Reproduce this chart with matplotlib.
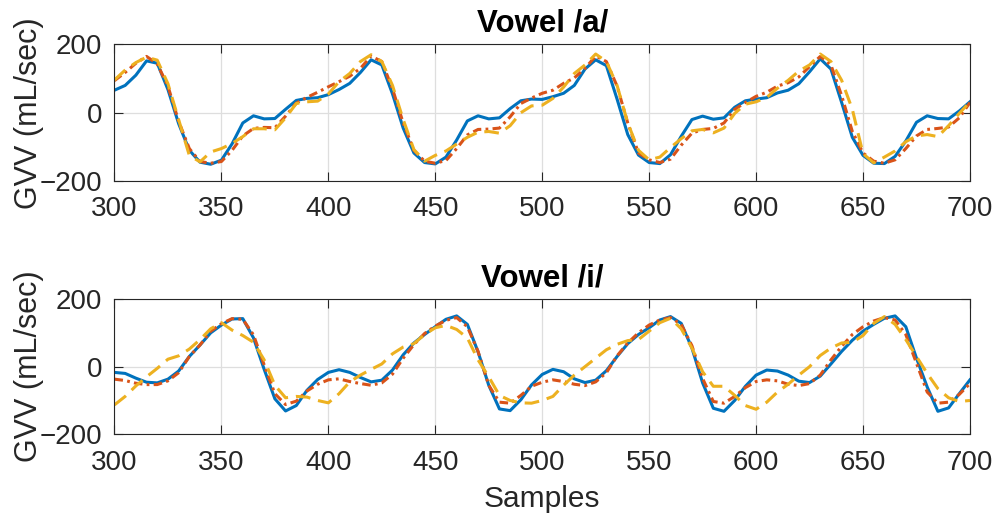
import matplotlib.pyplot as plt
import numpy as np

# MATLAB-like look
plt.rcParams['font.family'] = ['Liberation Sans', 'DejaVu Sans']

# sample index (x axis), every 5 samples
samples = np.arange(300, 701, 5)

# Vowel /a/ : GVV values
a_blue = [66, 80, 110, 152, 145, 68, -32, -110, -145, -151,
          -139, -91, -30, -9, -18, -17, 10, 36, 42, 44,
          53, 68, 86, 118, 155, 140, 55, -45, -118, -146,
          -150, -130, -80, -24, -9, -18, -15, 12, 35, 40,
          39, 47, 57, 80, 128, 155, 138, 40, -64, -124,
          -146, -149, -123, -69, -20, -10, -19, -15, 16, 35,
          40, 44, 58, 66, 85, 120, 158, 128, 30, -72,
          -125, -148, -149, -128, -83, -28, -9, -17, -18, 5,
          32]
a_red = [94, 118, 145, 165, 143, 78, -25, -105, -143, -148,
         -143, -110, -68, -46, -43, -44, -10, 28, 45, 60,
         76, 91, 107, 130, 166, 150, 70, -30, -110, -142,
         -148, -140, -105, -65, -49, -48, -45, -12, 27, 43,
         57, 66, 86, 102, 130, 166, 150, 78, -30, -118,
         -138, -146, -136, -95, -60, -49, -46, -30, 10, 30,
         48, 60, 78, 88, 105, 135, 165, 140, 50, -55,
         -118, -142, -148, -138, -105, -68, -49, -46, -42, -15,
         30]
a_yellow = [96, 125, 147, 163, 154, 85, -20, -125, -144, -115,
            -105, -90, -70, -47, -47, -50, -15, 27, 32, 34,
            55, 91, 115, 150, 170, 150, 80, -20, -108, -142,
            -125, -112, -92, -72, -57, -55, -60, -38, 0, 20,
            22, 42, 75, 115, 140, 172, 150, 80, -30, -110,
            -138, -130, -102, -76, -53, -49, -59, -45, -2, 25,
            32, 45, 72, 95, 122, 140, 172, 150, 95, 10,
            -120, -147, -130, -112, -85, -68, -64, -70, -38, -2,
            32]

# Vowel /i/
i_blue = [-17, -20, -34, -46, -48, -37, -13, 30, 64, 100,
          123, 141, 142, 85, -8, -95, -131, -115, -70, -38,
          -17, -9, -17, -32, -45, -40, -10, 35, 70, 95,
          118, 140, 150, 125, 44, -55, -125, -130, -98, -54,
          -23, -8, -15, -36, -47, -40, -12, 30, 68, 95,
          115, 138, 148, 128, 55, -48, -123, -132, -100, -58,
          -25, -10, -13, -25, -43, -47, -28, 8, 45, 78,
          105, 125, 143, 150, 118, 25, -60, -132, -122, -80,
          -39]
i_red = [-37, -41, -49, -53, -53, -42, -18, 30, 64, 105,
         127, 142, 140, 94, 5, -80, -112, -102, -72, -52,
         -39, -36, -44, -50, -55, -48, -22, 25, 65, 98,
         120, 137, 145, 118, 45, -55, -105, -108, -85, -58,
         -46, -39, -44, -52, -56, -45, -18, 32, 70, 100,
         123, 138, 145, 125, 62, -35, -103, -108, -88, -62,
         -44, -39, -42, -52, -56, -50, -25, 20, 60, 95,
         118, 135, 145, 138, 95, 10, -75, -108, -105, -82,
         -50]
i_yellow = [-113, -88, -57, -30, -5, 22, 32, 52, 80, 112,
            130, 108, 92, 72, 20, -55, -92, -88, -90, -100,
            -107, -80, -45, -25, -8, 8, 38, 58, 68, 95,
            115, 122, 110, 85, 20, -30, -85, -100, -107, -108,
            -100, -88, -55, -25, 0, 25, 50, 66, 77, 80,
            105, 130, 143, 112, 55, -15, -58, -58, -85, -115,
            -126, -105, -75, -52, -25, 0, 33, 55, 70, 72,
            92, 128, 148, 125, 80, 30, -20, -65, -92, -103,
            -100]

x_ticks = [300, 350, 400, 450, 500, 550, 600, 650, 700]
y_ticks = [-200, 0, 200]

blue = '#0072BD'
red = '#D95319'
yellow = '#EDB120'
dark = '#262626'


def draw(ax, yb, yr, yy, title):
    '''
    Draws the three GVV curves of one vowel on the given axes
    '''
    ax.plot(samples, yb, color=blue, lw=2.2, solid_joinstyle='round')
    ax.plot(samples, yr, color=red, lw=2.2, dashes=(2.8, 1.4, 0.9, 1.4),
            dash_joinstyle='round')
    ax.plot(samples, yy, color=yellow, lw=2.2, dashes=(4.8, 2.6),
            dash_joinstyle='round')

    ax.set_xlim(300, 700)
    ax.set_ylim(-200, 200)
    ax.set_xticks(x_ticks)
    ax.set_yticks(y_ticks)

    # grid and box like matlab
    ax.grid(True, color='#dedede', lw=0.9)
    ax.set_axisbelow(True)
    ax.tick_params(direction='in', length=6.5, width=0.8, colors=dark,
                   labelsize=20, top=True, right=True)
    ax.tick_params(axis='x', pad=11)
    ax.tick_params(axis='y', pad=9)
    for s in ax.spines.values():
        s.set_color(dark)
        s.set_linewidth(0.8)

    ax.set_title(title, fontsize=22.5, fontweight='bold', pad=9)
    ax.set_ylabel('GVV (mL/sec)', fontsize=22, color=dark)
    ax.yaxis.set_label_coords(-0.082, 0.5)


fig = plt.figure(figsize=(9.98, 5.22), dpi=100)
ax1 = fig.add_axes([0.1147, 0.6533, 0.8572, 0.2615])
ax2 = fig.add_axes([0.1147, 0.168, 0.8572, 0.2592])

draw(ax1, a_blue, a_red, a_yellow, 'Vowel /a/')
draw(ax2, i_blue, i_red, i_yellow, 'Vowel /i/')

ax2.set_xlabel('Samples', fontsize=21.5, color=dark, labelpad=7)

fig.savefig('out.png', dpi=100)
